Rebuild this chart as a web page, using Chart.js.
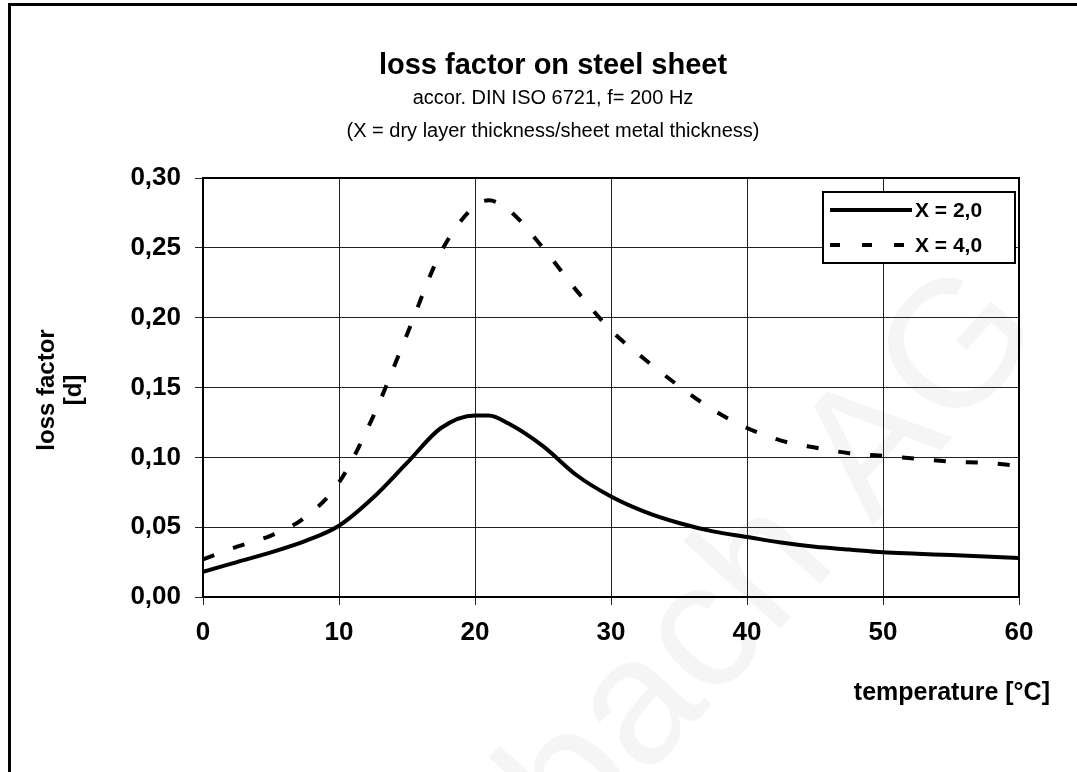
<!DOCTYPE html>
<html>
<head>
<meta charset="utf-8">
<title>loss factor on steel sheet</title>
<script src="https://cdn.jsdelivr.net/npm/chart.js@4/dist/chart.umd.min.js"></script>
<style>
    html, body { margin: 0; padding: 0; background: #fff; }
    #contenedor { position: relative; width: 1077px; height: 772px; }
</style>
</head>
<body>
<div id="contenedor"><canvas id="graficoPerdida"></canvas></div>
<script>
// Datos
const temperatura = [0, 2.5, 5, 7.5, 10, 12.5, 15, 17.5, 20, 21, 22.5, 25, 27.5, 30, 32.5, 35, 37.5, 40, 42.5, 45, 47.5, 50, 52.5, 55, 57.5, 60];
const serieX2 = [0.018, 0.025, 0.032, 0.040, 0.051, 0.071, 0.096, 0.121, 0.130, 0.130, 0.124, 0.108, 0.087, 0.072, 0.061, 0.053, 0.047, 0.043, 0.039, 0.036, 0.034, 0.032, 0.031, 0.030, 0.029, 0.028];
const serieX4 = [0.027, 0.036, 0.044, 0.057, 0.082, 0.129, 0.188, 0.247, 0.280, 0.284, 0.277, 0.250, 0.219, 0.191, 0.170, 0.151, 0.134, 0.121, 0.112, 0.107, 0.103, 0.101, 0.099, 0.097, 0.096, 0.094];
const nombresSeries = ['X = 2,0', 'X = 4,0'];
const ticksX = [0, 10, 20, 30, 40, 50, 60];
const ticksY = [0, 0.05, 0.10, 0.15, 0.20, 0.25, 0.30];

const fuente = '"Liberation Sans", Arial, sans-serif';

// Marco, títulos, marca de agua y leyenda
const decoracion = {
    id: 'decoracion',
    beforeDraw(chart) {
        const ctx = chart.ctx;
        ctx.save();
        // marca de agua muy clara
        ctx.translate(775, 560);
        ctx.rotate(-48 * Math.PI / 180);
        ctx.font = '180px ' + fuente;
        ctx.fillStyle = '#f5f5f5';
        ctx.textAlign = 'center';
        ctx.textBaseline = 'middle';
        ctx.fillText('bach AG', 0, 0);
        ctx.restore();
    },
    afterDraw(chart) {
        const ctx = chart.ctx;
        const area = chart.chartArea;
        ctx.save();
        // marco exterior
        ctx.fillStyle = '#000';
        ctx.fillRect(8, 3, 1077, 3);
        ctx.fillRect(8, 3, 3, 772);

        // borde del área de trazado
        ctx.strokeStyle = '#000';
        ctx.lineWidth = 2;
        ctx.strokeRect(area.left, area.top, area.right - area.left, area.bottom - area.top);

        // títulos
        ctx.textAlign = 'center';
        ctx.textBaseline = 'middle';
        ctx.fillStyle = '#000';
        ctx.font = 'bold 29px ' + fuente;
        ctx.fillText('loss factor on steel sheet', 553, 66);
        ctx.font = '20px ' + fuente;
        ctx.fillText('accor. DIN ISO 6721, f= 200 Hz', 553, 98);
        ctx.fillText('(X = dry layer thickness/sheet metal thickness)', 553, 131);

        // título eje x
        ctx.textAlign = 'right';
        ctx.font = 'bold 25px ' + fuente;
        ctx.fillText('temperature [°C]', 1050, 693);

        // título eje y (dos líneas giradas)
        ctx.save();
        ctx.translate(47, 390);
        ctx.rotate(-Math.PI / 2);
        ctx.textAlign = 'center';
        ctx.font = 'bold 24px ' + fuente;
        ctx.fillText('loss factor', 0, 0);
        ctx.fillText('[d]', 0, 27);
        ctx.restore();

        // leyenda
        const caja = { x: 823, y: 192, w: 192, h: 71 };
        ctx.fillStyle = '#fff';
        ctx.fillRect(caja.x, caja.y, caja.w, caja.h);
        ctx.lineWidth = 2;
        ctx.strokeStyle = '#000';
        ctx.strokeRect(caja.x, caja.y, caja.w, caja.h);
        chart.data.datasets.forEach((ds, i) => {
            const y = caja.y + 18 + i * 35;
            ctx.beginPath();
            ctx.lineWidth = ds.borderWidth;
            ctx.setLineDash(i === 0 ? [] : [10, 22]);
            ctx.moveTo(830, y);
            ctx.lineTo(912, y);
            ctx.stroke();
            ctx.setLineDash([]);
            ctx.fillStyle = '#000';
            ctx.textAlign = 'left';
            ctx.font = 'bold 21px ' + fuente;
            ctx.fillText(ds.label, 915, y + 1);
        });
        ctx.restore();
    }
};

const ctx = document.getElementById('graficoPerdida').getContext('2d');
new Chart(ctx, {
    type: 'line',
    data: {
        datasets: [{
            label: nombresSeries[0],
            data: temperatura.map((t, i) => ({ x: t, y: serieX2[i] })),
            borderColor: '#000',
            borderWidth: 4,
            pointRadius: 0,
            cubicInterpolationMode: 'monotone'
        }, {
            label: nombresSeries[1],
            data: temperatura.map((t, i) => ({ x: t, y: serieX4[i] })),
            borderColor: '#000',
            borderWidth: 4,
            borderDash: [12, 20],
            pointRadius: 0,
            cubicInterpolationMode: 'monotone'
        }]
    },
    options: {
        responsive: true,
        maintainAspectRatio: false,
        animation: false,
        layout: { padding: { left: 0, top: 178, right: 58, bottom: 0 } },
        plugins: {
            legend: { display: false },
            tooltip: { enabled: false },
            title: { display: false }
        },
        scales: {
            x: {
                type: 'linear',
                min: ticksX[0],
                max: ticksX[ticksX.length - 1],
                afterBuildTicks: scale => { scale.ticks = ticksX.map(v => ({ value: v })); },
                afterFit: scale => { scale.height = 175; },
                ticks: {
                    color: '#000',
                    font: { family: fuente, size: 26, weight: 'bold' },
                    padding: 12,
                    maxRotation: 0
                },
                grid: { color: '#222', lineWidth: 1, tickLength: 8 },
                border: { color: '#000', width: 2 }
            },
            y: {
                min: ticksY[0],
                max: ticksY[ticksY.length - 1],
                afterBuildTicks: scale => { scale.ticks = ticksY.map(v => ({ value: v })); },
                afterFit: scale => { scale.width = 203; },
                ticks: {
                    color: '#000',
                    font: { family: fuente, size: 26, weight: 'bold' },
                    padding: 14,
                    callback: v => v.toFixed(2).replace('.', ',')
                },
                grid: { color: '#222', lineWidth: 1, tickLength: 8 },
                border: { color: '#000', width: 2 }
            }
        }
    },
    plugins: [decoracion]
});
</script>
</body>
</html>
